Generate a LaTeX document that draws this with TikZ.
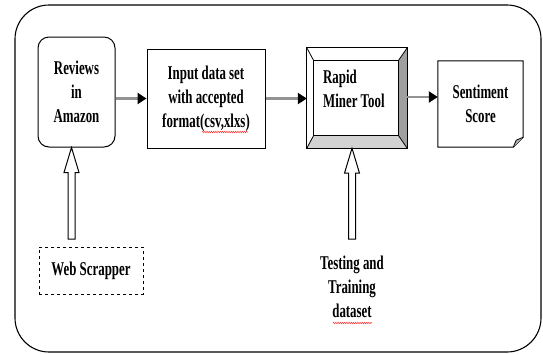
\documentclass[tikz,border=0pt]{standalone}
\usepackage{fontspec}
\setmainfont[FakeStretch=0.66]{Liberation Serif}
\usetikzlibrary{arrows.meta,calc,decorations.pathmorphing}

\tikzset{
  lbl/.style={font=\fontsize{19.5}{24}\selectfont\bfseries, align=center, inner sep=0pt},
  plainbox/.style={draw, line width=1pt, minimum width=#1},
  flow/.style={draw=gray!85, line width=2.6pt, -{Triangle[color=black,length=9pt,width=11pt]}},
  squiggle/.style={red!80, line width=0.5pt, decorate, decoration={snake,amplitude=0.8pt,segment length=2.2pt}}
}

% hollow upward arrow: #1 = foot, #2 = tip
\newcommand{\hollowup}[2]{%
  \draw[line width=1pt, fill=white] ($(#1)+(-3.5,0)$) -- ($(#2)+(-3.5,25)$) -- ($(#2)+(-7.5,25)$)
    -- (#2) -- ($(#2)+(7.5,25)$) -- ($(#2)+(3.5,25)$) -- ($(#1)+(3.5,0)$) -- cycle;}

\begin{document}
\begin{tikzpicture}[x=1pt, y=-1pt]
	\useasboundingbox (0,0) rectangle (543,354);
	% outer frame
	\draw[line width=1.1pt, rounded corners=34pt] (15,5) rectangle (541,352);

	% boxes
	\node[plainbox=77pt, minimum height=110pt, rounded corners=11pt, lbl] (reviews) at (76.5,92) {Reviews\\in\\Amazon};
	\node[plainbox=118pt, minimum height=99pt, lbl] (input) at (206,98.5) {Input data set\\with accepted\\format(csv,xlxs)};
	\node[draw=none, minimum width=100pt, minimum height=100pt] (rapid) at (357,98) {};
	\node[draw=none, minimum width=85pt, minimum height=86pt, lbl] (sentiment) at (480.5,104) {Sentiment\\Score};
	\node[draw, dashed, line width=1pt, minimum width=104pt, minimum height=47pt, lbl] (web) at (91,270.5) {Web Scrapper};
	\node[lbl] (testing) at (352,287) {Testing and\\Training\\dataset};

	% bevelled Rapid Miner box
	\coordinate (inw) at ($(rapid.north west)+(7,13)$);
	\coordinate (ine) at ($(rapid.north east)+(-9,13)$);
	\coordinate (ise) at ($(rapid.south east)+(-9,-13)$);
	\coordinate (isw) at ($(rapid.south west)+(7,-13)$);
	\fill[gray!75] (rapid.north east) -- (ine) -- (ise) -- (rapid.south east) -- cycle;
	\fill[gray!35] (rapid.south west) -- (isw) -- (ise) -- (rapid.south east) -- cycle;
	\draw[line width=1pt] (rapid.north west) rectangle (rapid.south east);
	\draw[line width=1pt] (inw) rectangle (ise);
	\draw[line width=0.8pt] (rapid.north west) -- (inw) (rapid.north east) -- (ine)
	  (rapid.south east) -- (ise) (rapid.south west) -- (isw);
	\node[lbl, align=left, anchor=north west] (rapidtxt) at (323,70) {Rapid\\Miner Tool};

	% sentiment document with folded corner
	\draw[line width=1pt] (sentiment.north west) -- (sentiment.north east) -- ($(sentiment.south east)+(0,-10)$)
	  -- ($(sentiment.south east)+(-10,0)$) -- (sentiment.south west) -- cycle;
	\filldraw[fill=gray!60, line width=0.8pt] ($(sentiment.south east)+(0,-10)$) -- ($(sentiment.south east)+(-7,-7)$)
	  -- ($(sentiment.south east)+(-10,0)$);

	% flow arrows
	\draw[flow] (reviews.east |- input.west) -- (input.west);
	\draw[flow] (input.east) -- (input.east -| rapid.west);
	\draw[flow] (rapid.east |- 0,97) -- (sentiment.west |- 0,97);

	% hollow arrows
	\coordinate (webtop) at (71.5,239);
	\coordinate (testtop) at (352,239);
	\hollowup{webtop}{reviews.south -| webtop}
	\hollowup{testtop}{rapid.south -| testtop}

	% spell-check marks
	\draw[squiggle] (202,132) -- (248,132);
	\draw[squiggle] (333,323) -- (372,323);
\end{tikzpicture}
\end{document}
